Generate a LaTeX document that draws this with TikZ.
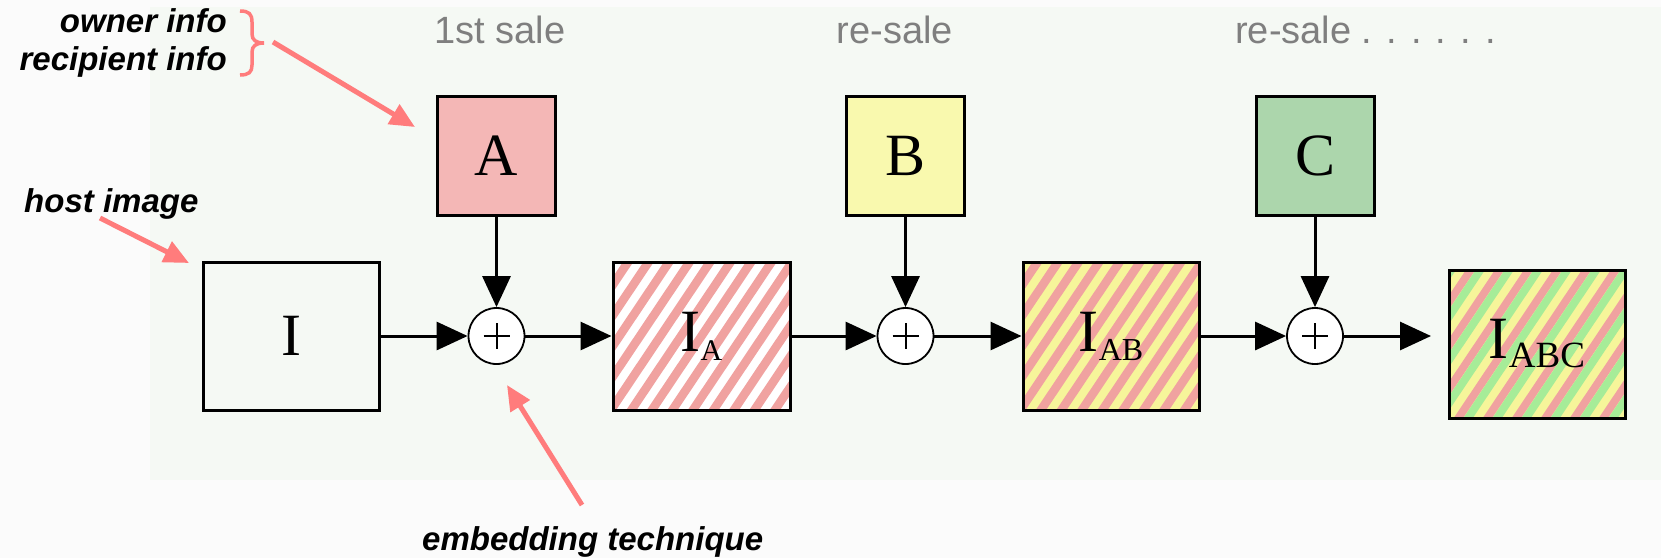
\documentclass[tikz,border=0pt]{standalone}
\usepackage{fontspec}
\setmainfont{Liberation Serif}
\newfontfamily\arialf{Liberation Sans}
\usetikzlibrary{arrows.meta,calc}
\definecolor{bgout}{HTML}{FBFBFB}
\definecolor{panel}{HTML}{F5F9F4}
\definecolor{lpink}{HTML}{FF7C7C}
\definecolor{grayt}{HTML}{7F7F7F}
\definecolor{fillA}{HTML}{F4B7B6}
\definecolor{fillB}{HTML}{F9F9AE}
\definecolor{fillC}{HTML}{ACD6AC}
\definecolor{sPink}{HTML}{F0A2A0}
\definecolor{sYel}{HTML}{F6F59A}
\definecolor{sGreen}{HTML}{A6EC98}
\begin{document}
\begin{tikzpicture}[x=1pt,y=-1pt,
  box/.style={draw=black, line width=3pt, inner sep=0pt, font=\fontsize{60}{60}\selectfont},
  sq/.style={box, minimum width=118pt, minimum height=119pt},
  big/.style={box, minimum width=176pt, minimum height=148pt},
  stripetwo/.style 2 args={fill=#1, path picture={
      \foreach \k in {-10,...,10}{
        \draw[#2, line width=8.6pt] ($(path picture bounding box.center)+(\k*20.5-67,100)$) -- ++(134,-200);}}},
  stripethree/.style={fill=sYel, path picture={
      \foreach \k in {-7,...,7}{
        \draw[sPink, line width=7.8pt] ($(path picture bounding box.center)+(\k*29-67,100)$) -- ++(134,-200);
        \draw[sGreen, line width=7.8pt] ($(path picture bounding box.center)+(\k*29+9.7-67,100)$) -- ++(134,-200);}}},
  circ/.style={circle, draw=black, line width=1.8pt, minimum size=56pt, inner sep=0pt, fill=white,
      path picture={
        \draw[line width=2pt] ($(path picture bounding box.center)+(-13,0)$) -- ++(26,0);
        \draw[line width=2pt] ($(path picture bounding box.center)+(0,-13)$) -- ++(0,26);}},
  flow/.style={-{Triangle[length=31pt,width=28pt]}, line width=3pt},
  parr/.style={draw=lpink, line width=5pt, -{Triangle[length=25pt,width=22pt]}},
  lab/.style={font=\arialf\bfseries\itshape\fontsize{33}{38}\selectfont, inner sep=0pt},
  sale/.style={font=\arialf\fontsize{38}{40}\selectfont, text=grayt, inner sep=0pt}
]
\fill[bgout] (0,0) rectangle (1661,558);
\fill[panel] (150,7) rectangle (1661,480);
\useasboundingbox (0,0) rectangle (1661,558);

% top labels
\node[sale, anchor=base] (s1) at (500,43) {1st sale};
\node[sale, anchor=base] (s2) at (895,43) {re-sale};
\node[sale, anchor=base west] (s3) at (1235,43) {re-sale . . . . . .};

% info boxes
\node[sq, fill=fillA] (A) at (496.5,156) {A};
\node[sq, fill=fillB] (B) at (905.5,156) {B};
\node[sq, fill=fillC] (C) at (1315,156) {C};

% image boxes
\node[big, fill=panel] (I) at (291,336) {I};
\node[big, minimum width=177pt, stripetwo={white}{sPink}] (IA) at (701.5,336)
  {I\raisebox{-9pt}{\fontsize{30}{30}\selectfont A}};
\node[big, stripetwo={sYel}{sPink}] (IAB) at (1111,336)
  {I\raisebox{-9pt}{\fontsize{32}{32}\selectfont AB}};
\node[big, stripethree] (IABC) at (1537,344)
  {I\raisebox{-9pt}{\fontsize{37}{37}\selectfont ABC}};

% adders
\node[circ] (cA) at (496.5,336) {};
\node[circ] (cB) at (905.5,336) {};
\node[circ] (cC) at (1315,336) {};
\coordinate (endC) at (1431,336);

% flow
\draw[flow] (I) -- (cA);
\draw[flow] (cA) -- (IA);
\draw[flow] (IA) -- (cB);
\draw[flow] (cB) -- (IAB);
\draw[flow] (IAB) -- (cC);
\draw[flow] (cC) -- (endC);
\draw[flow] (A) -- (cA);
\draw[flow] (B) -- (cB);
\draw[flow] (C) -- (cC);

% annotations
\node[lab, anchor=base east] (own) at (227,32) {owner info};
\node[lab, anchor=base east] (rec) at (227,70) {recipient info};
\draw[lpink, line width=3.5pt] (240,11) .. controls (249,11) and (252,14) .. (252,22) -- (252,34)
  .. controls (252,40) and (256,43) .. (264,43)
  .. controls (256,43) and (252,46) .. (252,52) -- (252,65)
  .. controls (252,72) and (249,75) .. (240,75);
\coordinate (brTip) at (273,42);
\coordinate (toA) at (415,127);
\draw[parr] (brTip) -- (toA);

\node[lab, anchor=base west] (host) at (24,212) {host image};
\coordinate (hs) at (100,218);
\coordinate (he) at (189,263);
\draw[parr] (hs) -- (he);

\node[lab, anchor=base west] (emb) at (422,550) {embedding technique};
\coordinate (es) at (582,505);
\coordinate (ee) at (507,385);
\draw[parr] (es) -- (ee);
\end{tikzpicture}
\end{document}
